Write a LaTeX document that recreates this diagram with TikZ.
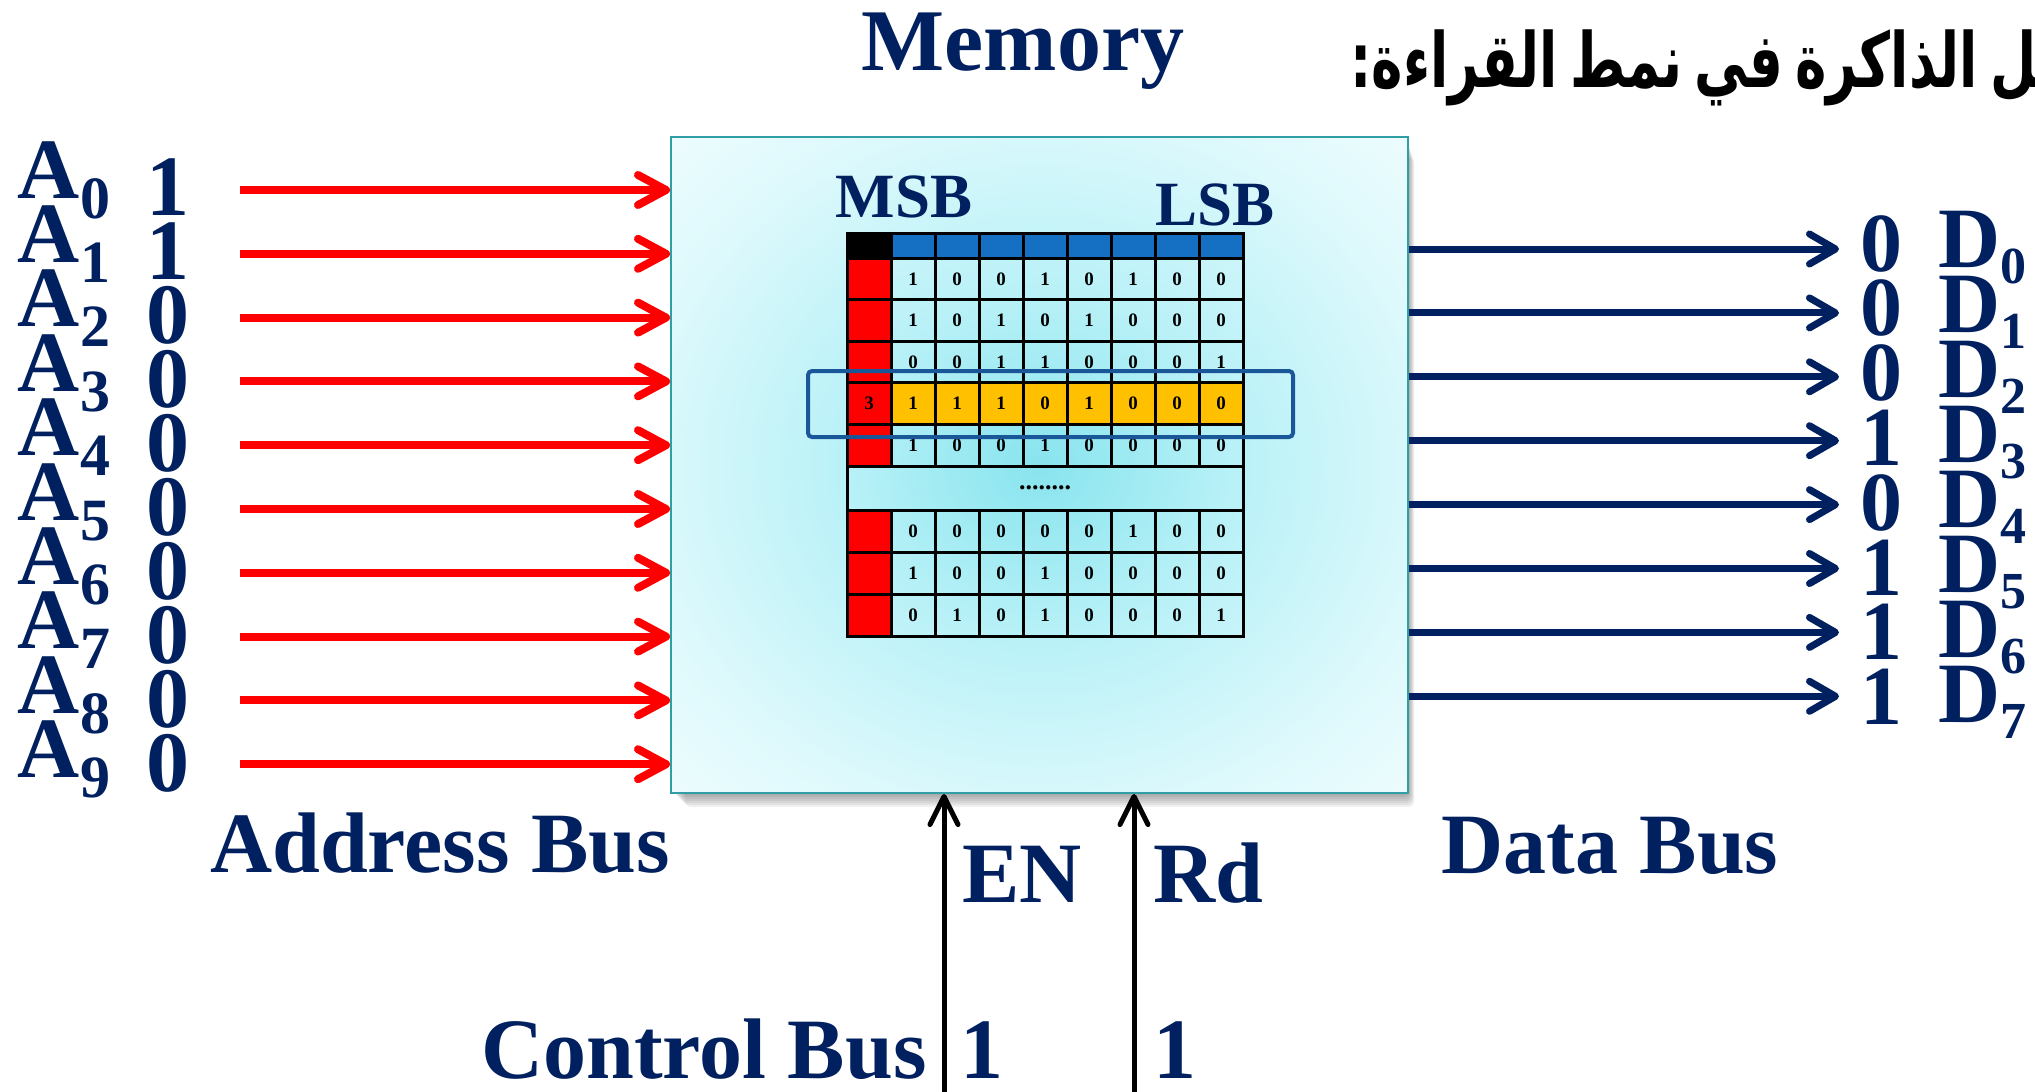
\documentclass[tikz,border=0pt]{standalone}
\usepackage{fontspec}
\setmainfont{Liberation Serif}
\newfontfamily\arabicfont[Script=Arabic, FakeStretch=0.70, WordSpace=0.65]{DejaVu Sans}
\TeXXeTstate=1
\usetikzlibrary{arrows.meta}
\definecolor{navy}{HTML}{002060}
\definecolor{hdrblue}{HTML}{1570C4}
\definecolor{ylw}{HTML}{FFC000}
\definecolor{hlblue}{HTML}{1A5799}
\definecolor{boxborder}{HTML}{2F9FA5}
\definecolor{mcA}{HTML}{88E4EE}
\definecolor{mcB}{HTML}{B8F1F7}
\definecolor{mcC}{HTML}{DDF9FC}
\definecolor{mcD}{HTML}{EEFCFE}
\pgfdeclareradialshading{memshade}{\pgfpoint{0bp}{0bp}}{color(0bp)=(mcA); color(13bp)=(mcB); color(27bp)=(mcC); color(36bp)=(mcD); color(50bp)=(mcD)}
\tikzset{
  big/.style={text=navy, inner sep=0pt, outer sep=0pt, font=\bfseries\fontsize{43}{43}\selectfont},
  mid/.style={text=navy, inner sep=0pt, outer sep=0pt, font=\bfseries\fontsize{31.5}{31.5}\selectfont},
  dval/.style={text=navy, inner sep=0pt, outer sep=0pt, font=\bfseries\fontsize{42}{42}\selectfont},
  cellnum/.style={text=black, inner sep=0pt, font=\bfseries\fontsize{9.5}{9.5}\selectfont},
  gridline/.style={draw=black, line width=1.5pt},
  addrarrow/.style={draw=red, line width=4pt, -{Straight Barb[length=14pt,width=15pt,round]}},
  dataarrow/.style={draw=navy, line width=3.5pt, -{Straight Barb[length=13pt,width=15pt,round]}},
  ctlarrow/.style={draw=black, line width=2.5pt, -{Straight Barb[length=14pt,width=14pt,round]}},
}
\newcommand{\Asub}[1]{A\raisebox{-10pt}{\fontsize{30}{30}\selectfont #1}}
\newcommand{\Dsub}[1]{D\raisebox{-8pt}{\fontsize{26}{26}\selectfont #1}}
\begin{document}
\begin{tikzpicture}[x=0.5pt,y=-0.5pt]
\useasboundingbox (0,0) rectangle (2035,1092);
\begin{scope}
\clip (0,0) rectangle (2035,1092);
\fill[white] (0,0) rectangle (2035,1092);

% soft shadow of the memory box
\foreach \k in {1,...,7}
  \fill[black, opacity=0.055, rounded corners=3pt] ({671+2*\k},{137+3*\k}) rectangle ({1408+0.9*\k},{793+2*\k});

% memory box
\node[shade, shading=memshade, draw=boxborder, line width=1pt, inner sep=0pt,
      minimum width=368.5pt, minimum height=328pt] (mem) at (1039.5,465) {};

% header row
\fill[black] (847,233) rectangle (891,258);
\foreach \c in {1,...,8} \fill[hdrblue] ({847+44*\c},233) rectangle ++(44,25);
\foreach \c in {0,...,8} \draw[gridline] ({847+44*\c},233) rectangle ++(44,25);

% data rows
\foreach \y/\h/\lab/\bits [count=\r] in {
  258/41.6//{1,0,0,1,0,1,0,0},
  299.6/41.6//{1,0,1,0,1,0,0,0},
  341.2/41.6//{0,0,1,1,0,0,0,1},
  382.8/41.6/3/{1,1,1,0,1,0,0,0},
  424.4/41.6//{1,0,0,1,0,0,0,0},
  510/42//{0,0,0,0,0,1,0,0},
  552/42//{1,0,0,1,0,0,0,0},
  594/42//{0,1,0,1,0,0,0,1}} {
  \fill[red] (847,\y) rectangle ++(44,\h);
  \ifnum\r=4 \fill[ylw] (891,\y) rectangle ++(352,\h); \fi
  \foreach \c in {0,...,8} \draw[gridline] ({847+44*\c},\y) rectangle ++(44,\h);
  \node[cellnum] (r\r) at (869,{\y+\h/2}) {\lab};
  \foreach \b [count=\c] in \bits {
    \node[cellnum] (b\r-\c) at ({847+44*\c+22},{\y+\h/2}) {\b};
  }
}
% dots row
\draw[gridline] (847,466) rectangle (1243,510);
\node[cellnum, font=\bfseries\fontsize{13}{13}\selectfont] (dots) at (1045,488) {........};

% highlight
\draw[hlblue, line width=2pt, rounded corners=2pt] (808,371) rectangle (1293,437);

% titles
\node[big, font=\bfseries\fontsize{44}{44}\selectfont, anchor=base] (memt) at (1023,70) {Memory};
\node[mid, anchor=base] (msb) at (904,217) {MSB};
\node[mid, anchor=base] (lsb) at (1215,225) {LSB};
\node[anchor=base west, inner sep=0pt] (title) at (1350,87)
  {\arabicfont\bfseries\fontsize{38}{38}\selectfont\beginR عمل الذاكرة في نمط القراءة:\endR};

% address bus
\foreach \v [count=\i from 0] in {1,1,0,0,0,0,0,0,0,0} {
  \node[big, anchor=base west] (A\i) at (18,{198+64.4*\i}) {\Asub{\i}};
  \node[big, anchor=base] (av\i) at (168,{215+64.1*\i}) {\v};
  \coordinate (as\i) at (240,{190+63.8*\i});
  \draw[addrarrow] (as\i) -- (as\i -| mem.west);
}
\node[big, anchor=base] (abus) at (440,872) {Address Bus};

% data bus
\foreach \v [count=\i from 0] in {0,0,0,1,0,1,1,1} {
  \coordinate (de\i) at (1839,{249+63.9*\i});
  \draw[dataarrow] (de\i -| mem.east) -- (de\i);
  \node[dval, anchor=base] (dv\i) at (1881,{271+64.8*\i}) {\v};
  \node[big, anchor=base west] (D\i) at (1938,{267+65*\i}) {\Dsub{\i}};
}
\node[big, anchor=base] (dbus) at (1610,873) {Data Bus};

% control bus
\coordinate (en0) at (944,1092);
\coordinate (rd0) at (1134,1092);
\draw[ctlarrow] (en0) -- (en0 |- mem.south);
\draw[ctlarrow] (rd0) -- (rd0 |- mem.south);
\node[big, anchor=base] (ent) at (1022,902) {EN};
\node[big, anchor=base] (rdt) at (1208,902) {Rd};
\node[big, anchor=base] (cbus) at (704,1078) {Control Bus};
\node[big, anchor=base] (en1) at (982,1078) {1};
\node[big, anchor=base] (rd1) at (1175,1078) {1};
\end{scope}
\end{tikzpicture}
\end{document}
